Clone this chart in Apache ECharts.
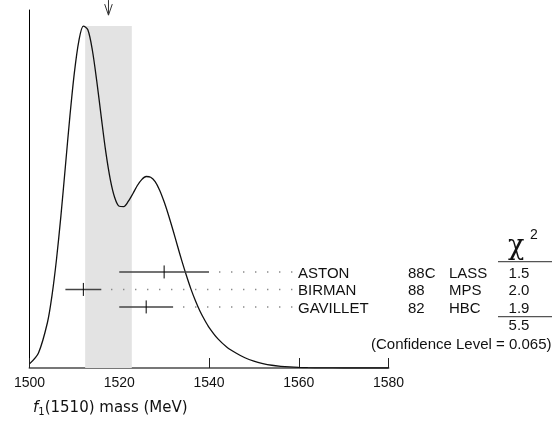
<!DOCTYPE html>
<html>
<head>
<meta charset="utf-8">
<script src="https://cdn.jsdelivr.net/npm/echarts@6/dist/echarts.min.js"></script>
<style>html,body{margin:0;padding:0;background:#fff}#c{width:552px;height:428px}</style>
</head>
<body>
<div id="c"></div>
<script>
// ---- data ----
const xTicks = [1500, 1520, 1540, 1560, 1580];
const ideogramMass = [1500,1502,1504,1505,1506,1507,1508,1509,1510,1511,1512,1513,1514,1515,1516,1517,1518,1519,1520,1521,1522,1523,1524,1525,1526,1527,1528,1529,1530,1531,1532,1533,1534,1535,1536,1537,1538,1539,1540,1542,1544,1546,1548,1550,1552,1554,1556,1558,1560,1562,1565,1570,1575,1580];
const ideogramHeight = [1.2,4.4,13.3,21.1,31.6,44.5,59.0,73.6,86.4,95.7,100,98.9,93.0,83.8,73.3,63.2,55.2,49.8,47.3,47.2,48.7,50.9,53.3,55.1,56.0,55.8,54.5,52.0,48.6,44.6,40.2,35.6,31.1,26.9,23.0,19.6,16.6,14.1,11.9,8.5,6.1,4.4,3.0,2.0,1.3,0.8,0.5,0.3,0.17,0.09,0.03,0,0,0];
const experiments = ['ASTON', 'BIRMAN', 'GAVILLET'];
const years = ['88C', '88', '82'];
const techniques = ['LASS', 'MPS', 'HBC'];
const masses = [1530, 1512, 1526];
const errors = [10, 4, 6];
const chi2 = ['1.5', '2.0', '1.9'];
const chi2Total = '5.5';
const confidenceLevel = '0.065';
const avgMass = 1517.6;
const avgErr = 5.2;
const bandHeight = 100;

// ---- layout constants ----
const FONT = '"Liberation Sans", Arial, sans-serif';
const nameX = 298, yearX = 408, techX = 449, chiX = 519;

const chart = echarts.init(document.getElementById('c'), null, {renderer: 'canvas'});

const curveData = ideogramMass.map((m, i) => [m, ideogramHeight[i]]);
const barData = masses.map((m, i) => [m, errors[i], i]);

function renderBar(params, api) {
  const m = api.value(0), e = api.value(1), row = api.value(2);
  const L = api.coord([m - e, row]);
  const R = api.coord([m + e, row]);
  const C = api.coord([m, row]);
  const y = C[1];
  const i = params.dataIndex;
  const children = [
    {type: 'line', shape: {x1: L[0], y1: y, x2: R[0], y2: y}, style: {stroke: '#444', lineWidth: 1.6}},
    {type: 'line', shape: {x1: C[0], y1: y - 6.5, x2: C[0], y2: y + 6.5}, style: {stroke: '#000', lineWidth: 1}}
  ];
  for (let p = nameX - 6.3; p >= R[0] + 8; p -= 12) {
    children.push({type: 'rect', shape: {x: p - 0.7, y: y - 0.7, width: 1.4, height: 1.4}, style: {fill: '#8a8a8a'}});
  }
  const tf = '15px ' + FONT;
  children.push({type: 'text', style: {text: experiments[i], x: nameX, y: y + 1.5, font: tf, fill: '#111', align: 'left', verticalAlign: 'middle'}});
  children.push({type: 'text', style: {text: years[i], x: yearX, y: y + 1.5, font: tf, fill: '#111', align: 'left', verticalAlign: 'middle'}});
  children.push({type: 'text', style: {text: techniques[i], x: techX, y: y + 1.5, font: tf, fill: '#111', align: 'left', verticalAlign: 'middle'}});
  children.push({type: 'text', style: {text: chi2[i], x: chiX, y: y + 1.5, font: tf, fill: '#111', align: 'center', verticalAlign: 'middle'}});
  return {type: 'group', children};
}

function renderFooter(params, api) {
  const row = api.value(0);
  const P = api.coord([1500, row]);
  const y = P[1];
  const tf = '15px ' + FONT;
  const children = [];
  if (params.dataIndex === 0) {
    children.push({type: 'text', style: {text: chi2Total, x: chiX, y: y + 1.5, font: tf, fill: '#111', align: 'center', verticalAlign: 'middle'}});
  } else {
    children.push({type: 'text', style: {text: '(Confidence Level = ' + confidenceLevel + ')', x: 551.5, y: y + 2.5, font: tf, fill: '#111', align: 'right', verticalAlign: 'middle'}});
  }
  return {type: 'group', children};
}

function renderArrow(params, api) {
  const top = api.coord([api.value(0), 107.6]);
  const tip = api.coord([api.value(0), 103.2]);
  return {type: 'group', children: [
    {type: 'line', shape: {x1: top[0], y1: top[1], x2: tip[0], y2: tip[1]}, style: {stroke: '#333', lineWidth: 1}},
    {type: 'polyline', shape: {points: [[tip[0] - 3.8, tip[1] - 11], [tip[0], tip[1]], [tip[0] + 3.8, tip[1] - 11]]}, style: {stroke: '#333', lineWidth: 1, fill: null}}
  ]};
}

const option = {
  animation: false,
  backgroundColor: '#fff',
  grid: {left: 29.5, right: 163.5, top: 10, bottom: 60},
  xAxis: {
    type: 'value', min: xTicks[0], max: xTicks[xTicks.length - 1], interval: 20,
    axisLine: {show: true, lineStyle: {color: '#777', width: 2}},
    axisTick: {show: true, inside: true, length: 10, lineStyle: {color: '#222', width: 1}},
    axisLabel: {fontSize: 14, fontFamily: FONT, color: '#111', margin: 8, formatter: v => String(v)},
    splitLine: {show: false}
  },
  yAxis: [
    {type: 'value', min: 0, max: 104.7,
     axisLine: {show: true, onZero: false, lineStyle: {color: '#000', width: 1}},
     axisTick: {show: false}, axisLabel: {show: false}, splitLine: {show: false}},
    {type: 'value', inverse: true, min: -14.97, max: 5.49, show: false, splitLine: {show: false}}
  ],
  graphic: [
    {type: 'line', shape: {x1: 498, y1: 261.7, x2: 552, y2: 261.7}, style: {stroke: '#555', lineWidth: 1.2}},
    {type: 'line', shape: {x1: 498, y1: 316.7, x2: 552, y2: 316.7}, style: {stroke: '#555', lineWidth: 1.2}},
    {type: 'text', left: 508, top: 233, style: {text: 'χ', font: '27px "DejaVu Serif", "Liberation Serif", serif', fill: '#111'}},
    {type: 'text', left: 530, top: 228, style: {text: '2', font: '14px ' + FONT, fill: '#111'}},
    {type: 'text', left: 33, top: 401, style: {
      text: '{i|f}{s|1}(1510) mass (MeV)',
      font: '15px "DejaVu Sans", sans-serif', fill: '#111',
      rich: {
        i: {fontStyle: 'italic', fontSize: 15, fontFamily: 'DejaVu Sans'},
        s: {fontSize: 10, fontFamily: 'DejaVu Sans', padding: [8, 0, 0, 0]}
      }
    }}
  ],
  series: [
    {
      type: 'line', name: 'band', data: [], z: 1,
      markArea: {silent: true, itemStyle: {color: '#e3e3e3'},
        data: [[{xAxis: avgMass - avgErr, yAxis: 0}, {xAxis: avgMass + avgErr, yAxis: bandHeight}]]}
    },
    {
      type: 'line', name: 'ideogram', data: curveData, smooth: 0.3, showSymbol: false, z: 3,
      lineStyle: {color: '#111', width: 1.3}
    },
    {
      type: 'custom', name: 'measurements', coordinateSystem: 'cartesian2d', yAxisIndex: 1,
      data: barData, renderItem: renderBar, clip: false, z: 4
    },
    {
      type: 'custom', name: 'footer', coordinateSystem: 'cartesian2d', yAxisIndex: 1,
      data: [[3], [4]], renderItem: renderFooter, clip: false, z: 4,
      encode: {y: 0}
    },
    {
      type: 'custom', name: 'arrow', coordinateSystem: 'cartesian2d', yAxisIndex: 0,
      data: [[avgMass]], renderItem: renderArrow, clip: false, z: 4, encode: {x: 0}
    }
  ]
};
chart.setOption(option);
</script>
</body>
</html>
